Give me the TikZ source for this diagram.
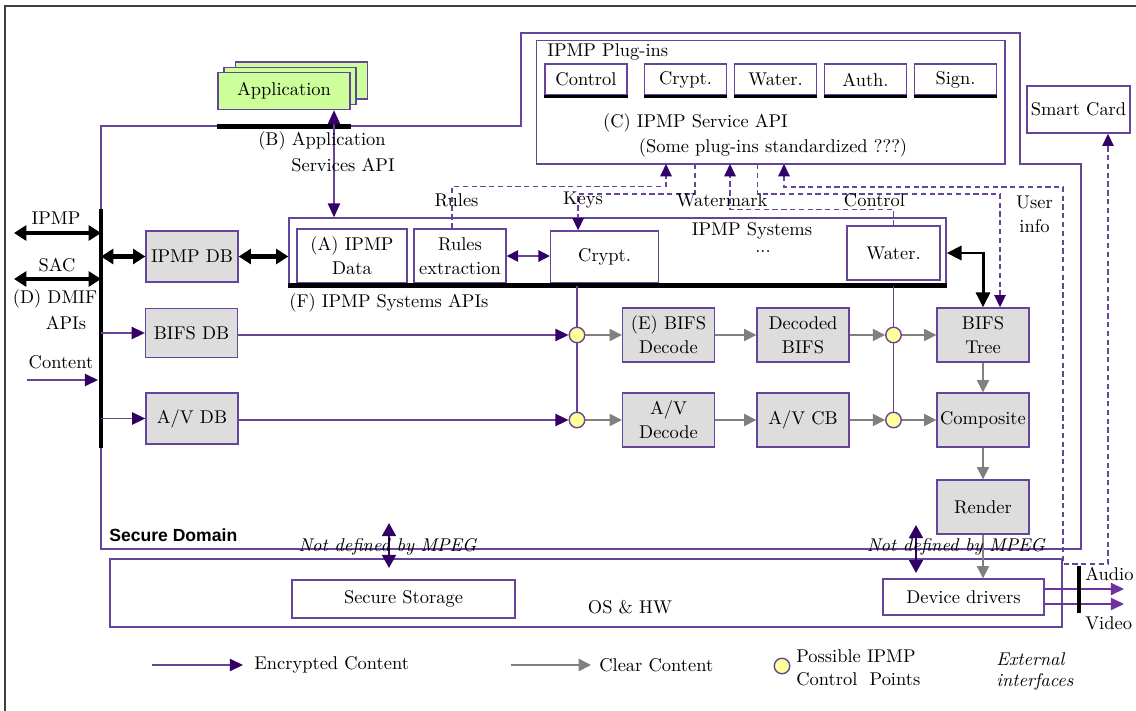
\documentclass[tikz,border=0pt]{standalone}
\usepackage{fontspec}
\usepackage{tikz}
\usetikzlibrary{arrows.meta}
\newfontfamily\domainfont{Liberation Sans}

\definecolor{lnpurple}{RGB}{102,68,153}
\definecolor{hdpurple}{RGB}{51,0,102}
\definecolor{avpurple}{RGB}{112,48,160}
\definecolor{boxgray}{RGB}{221,221,221}
\definecolor{arrgray}{RGB}{128,128,128}
\definecolor{appgreen}{RGB}{204,255,153}
\definecolor{cpyellow}{RGB}{255,255,153}
\definecolor{framegray}{RGB}{64,64,64}

\begin{document}
\begin{tikzpicture}[x=0.02cm,y=-0.02cm,font=\fontsize{10.5}{13.6}\selectfont,
		lbl/.style={inner sep=0pt},
		whitebox/.style={draw=lnpurple,line width=0.8pt,fill=white,align=center,inner sep=1pt},
		graybox/.style={whitebox,fill=boxgray,minimum width=1.84cm,minimum height=1.08cm},
		appbox/.style={whitebox,fill=appgreen,minimum width=2.64cm,minimum height=0.74cm},
		plugbox/.style={whitebox,minimum width=1.64cm,minimum height=0.62cm},
		cpoint/.style={circle,draw=lnpurple,line width=0.8pt,fill=cpyellow,minimum size=0.31cm,inner sep=0pt},
		sdline/.style={draw=lnpurple,line width=0.8pt},
		apibar/.style={line width=2.6pt},
		plugline/.style={line width=1.4pt},
		encarrow/.style={draw=lnpurple,line width=0.8pt,-{Triangle[length=7.5pt,width=7pt,color=hdpurple]}},
		clrarrow/.style={draw=arrgray,line width=0.9pt,-{Triangle[length=7pt,width=7pt]}},
		avarrow/.style={draw=avpurple,line width=0.8pt,-{Triangle[length=7.5pt,width=7pt]}},
		purpdouble/.style={draw=lnpurple,line width=0.8pt,{Triangle[length=6.5pt,width=6.5pt,color=hdpurple]}-{Triangle[length=6.5pt,width=6.5pt,color=hdpurple]}},
		apiarrow/.style={draw=lnpurple,line width=1pt,{Triangle[length=8pt,width=7pt,color=hdpurple]}-{Triangle[length=8pt,width=7pt,color=hdpurple]}},
		ndarrow/.style={draw=hdpurple,line width=1.2pt,{Triangle[length=7.5pt,width=8pt]}-{Triangle[length=7.5pt,width=8pt]}},
		blkdouble/.style={line width=2.3pt,{Triangle[length=7pt,width=8.5pt]}-{Triangle[length=7pt,width=8.5pt]}},
		blkthin/.style={line width=1.7pt,{Triangle[length=8.5pt,width=8pt]}-{Triangle[length=8.5pt,width=8pt]}},
		dasharrow/.style={draw=lnpurple,line width=0.8pt,dash pattern=on 3pt off 2pt,-{Triangle[length=7pt,width=6.5pt,color=hdpurple]}},
		dashdouble/.style={dasharrow,{Triangle[length=7pt,width=6.5pt,color=hdpurple]}-{Triangle[length=7pt,width=6.5pt,color=hdpurple]}}]
	\useasboundingbox (0,0) rectangle (1136,710);
	\draw[framegray,line width=0.6pt] (5,720) -- (5,6) -- (1145,6);
	
	\draw[sdline] (101,549) -- (101,126) -- (521,126) -- (521,33) -- (1020,33) -- (1020,164) -- (1081,164) -- (1081,549) -- cycle;
	\node[lbl,anchor=west,font=\fontsize{10}{12}\domainfont\bfseries] (sdlabel) at (109,535) {Secure Domain};
	
	\node[appbox] (appback) at (301.5,80.5) {};
	\node[appbox] (appmid) at (290,86) {};
	\node[appbox] (app) at (284,91) {Application};
	\draw[apibar] ([yshift=-0.33cm]app.south west) -- ([yshift=-0.33cm]app.south east);
	
	\node[whitebox,minimum width=9.37cm,minimum height=2.47cm] (plugins) at (770.75,102.35) {};
	\node[lbl,anchor=west] (plugtitle) at (547,52) {IPMP Plug-ins};
	\node[plugbox] (pctrl) at (586,79.5) {Control};
	\node[plugbox] (pcrypt) at (685.5,79.5) {Crypt.};
	\node[plugbox] (pwater) at (775.5,79.5) {Water.};
	\node[plugbox] (pauth) at (865.5,79.5) {Auth.};
	\node[plugbox] (psign) at (955.5,79.5) {Sign.};
	\draw[plugline] ([yshift=-0.02cm]pctrl.south west) -- ([yshift=-0.02cm]pctrl.south east);
	\draw[plugline] ([yshift=-0.02cm]pcrypt.south west) -- ([yshift=-0.02cm]pcrypt.south east);
	\draw[plugline] ([yshift=-0.02cm]pwater.south west) -- ([yshift=-0.02cm]pwater.south east);
	\draw[plugline] ([yshift=-0.02cm]pauth.south west) -- ([yshift=-0.02cm]pauth.south east);
	\draw[plugline] ([yshift=-0.02cm]psign.south west) -- ([yshift=-0.02cm]psign.south east);
	\node[lbl] (capi) at (695.5,122.7) {(C) IPMP Service API};
	\node[lbl] (capinote) at (773,147.7) {(Some plug-ins standardized ???)};
	
	\node[whitebox,minimum width=2.06cm,minimum height=0.94cm] (smartcard) at (1078.5,109.5) {Smart Card};
	
	\coordinate (dmiftop) at (101,209);
	\coordinate (dmifbot) at (101,448);
	\draw[line width=2.3pt] (dmiftop) -- (dmifbot);
	\coordinate (ipmpin) at (14,233);
	\coordinate (sacin) at (14,279);
	\coordinate (contentin) at (27,380);
	\draw[blkdouble] (ipmpin) -- (ipmpin -| dmiftop);
	\draw[blkdouble] (sacin) -- (sacin -| dmiftop);
	\draw[encarrow] (contentin) -- ([xshift=-0.06cm]contentin -| dmiftop);
	\node[lbl] (ipmplabel) at (56,218) {IPMP};
	\node[lbl] (saclabel) at (57,265) {SAC};
	\node[lbl] (dmif1) at (55,299) {(D) DMIF};
	\node[lbl] (dmif2) at (66,323) {APIs};
	\node[lbl] (contentlabel) at (61,362) {Content};
	
	\node[graybox,minimum height=1.02cm] (ipmpdb) at (192,256.5) {IPMP DB};
	\node[graybox,minimum height=0.98cm] (bifsdb) at (191.5,333) {BIFS DB};
	\node[graybox,minimum height=1.02cm] (avdb) at (192,418.5) {A/V DB};
	
	\node[whitebox,minimum width=13.14cm,minimum height=1.34cm] (ipmpsys) at (617.5,251.5) {};
	\node[lbl] (systitle) at (752,231) {IPMP Systems};
	\node[lbl] (sysdots) at (763,252) {...};
	\node[whitebox,minimum width=2.2cm,minimum height=1.08cm] (ipmpdata) at (352,256) {(A) IPMP\\Data};
	\node[whitebox,minimum width=1.84cm,minimum height=1.08cm] (rulesx) at (460,256) {Rules\\extraction};
	\node[whitebox,minimum width=2.16cm,minimum height=1.04cm] (cryptsys) at (604.6,257) {Crypt.};
	\node[whitebox,minimum width=1.86cm,minimum height=1.08cm] (watersys) at (893.5,253) {Water.};
	\draw[apibar] (ipmpsys.south west) -- (ipmpsys.south east);
	\node[lbl,anchor=west] (fapi) at (289,303) {(F) IPMP Systems APIs};
	
	\draw[blkdouble] (dmiftop |- ipmpdb) -- (ipmpdb);
	\draw[blkdouble] (ipmpdb) -- (ipmpdb -| ipmpsys.west);
	\draw[purpdouble] (rulesx.east) -- (rulesx.east -| cryptsys.west);
	\draw[encarrow] (dmiftop |- bifsdb) -- (bifsdb);
	\draw[encarrow] (dmiftop |- avdb) -- (avdb);
	
	\draw[apiarrow] ([xshift=1cm]app.south) -- ([xshift=1cm]app.south |- ipmpsys.north);
	\node[lbl] (bapi1) at (322,141) {(B) Application};
	\node[lbl] (bapi2) at (343,165) {Services API};
	
	\node[cpoint] (cp1) at (577,335) {};
	\node[cpoint] (cp2) at (577,420) {};
	\node[cpoint] (cp3) at (893.5,335) {};
	\node[cpoint] (cp4) at (893.5,420) {};
	\draw[sdline] (cp1 |- ipmpsys.south) -- (cp1);
	\draw[sdline] (cp1) -- (cp2);
	\draw[sdline] (cp3 |- ipmpsys.south) -- (cp3);
	\draw[sdline] (cp3) -- (cp4);
	
	\node[graybox] (bifsdec) at (668.5,335) {(E) BIFS\\Decode};
	\node[graybox] (bifsdecd) at (803,335) {Decoded\\BIFS};
	\node[graybox] (bifstree) at (983,335) {BIFS\\Tree};
	\node[graybox] (avdec) at (668.5,420) {A/V\\Decode};
	\node[graybox] (avcb) at (803,420) {A/V CB};
	\node[graybox] (composite) at (983,420) {Composite};
	\node[graybox] (render) at (983,507) {Render};
	
	\draw[encarrow] (bifsdb.east |- cp1) -- (cp1);
	\draw[encarrow] (avdb.east |- cp2) -- (cp2);
	\draw[clrarrow] (cp1) -- (bifsdec);
	\draw[clrarrow] (bifsdec) -- (bifsdecd);
	\draw[clrarrow] (bifsdecd) -- (cp3);
	\draw[clrarrow] (cp3) -- (bifstree);
	\draw[clrarrow] (cp2) -- (avdec);
	\draw[clrarrow] (avdec) -- (avcb);
	\draw[clrarrow] (avcb) -- (cp4);
	\draw[clrarrow] (cp4) -- (composite);
	\draw[clrarrow] (bifstree) -- (composite);
	\draw[clrarrow] (composite) -- (render);
	
	\draw[blkthin] (ipmpsys.east |- watersys) -| (bifstree.north);
	
	\coordinate (torules) at (666,164);
	\coordinate (tokeys) at (695,164);
	\coordinate (towmark) at (730,164);
	\coordinate (tocontrol) at (757.5,164);
	\coordinate (touser) at (784,164);
	\coordinate (usercorner) at (1063,564);
	\draw[dasharrow] ([xshift=-0.16cm]rulesx.north) -- ++(0,-42) -| (torules);
	\draw[dasharrow] (tokeys) -- ++(0,30) -| ([xshift=-0.53cm]cryptsys.north);
	\draw[dasharrow] (watersys.north) -- ++(0,-16) -| (towmark);
	\draw[dasharrow] (tocontrol) -- ++(0,30) -| ([xshift=0.34cm]bifstree.north);
	\draw[dashdouble] (touser) -- ++(0,23) -| (usercorner) -| ([xshift=0.59cm]smartcard.south);
	\node[lbl] (ruleslabel) at (456.5,200) {Rules};
	\node[lbl] (keyslabel) at (583,200) {Keys};
	\node[lbl] (wmarklabel) at (722,200) {Watermark};
	\node[lbl] (ctrllabel) at (874.5,200) {Control};
	\node[lbl,align=center] (userlabel) at (1034.5,214) {User\\info};
	
	\node[whitebox,minimum width=19.04cm,minimum height=1.36cm] (oshw) at (586,593) {};
	\node[lbl] (oslabel) at (630,607) {OS \& HW};
	\node[whitebox,minimum width=4.46cm,minimum height=0.76cm] (secstore) at (403.5,599) {Secure Storage};
	\node[whitebox,minimum width=3.22cm,minimum height=0.72cm] (devdrv) at (963.5,597) {Device drivers};
	\draw[clrarrow] (render) -- (render |- devdrv.north);
	
	\coordinate (nd1top) at (389,523);
	\coordinate (nd1bot) at (389,568);
	\coordinate (nd2top) at (916,525);
	\coordinate (nd2bot) at (916,573);
	\draw[ndarrow] (nd1top) -- (nd1bot);
	\draw[ndarrow] (nd2top) -- (nd2bot);
	\node[lbl] (nd1label) at (387.5,547) {\itshape Not defined by MPEG};
	\node[lbl] (nd2label) at (956,547) {\itshape Not defined by MPEG};
	
	\coordinate (audioout) at (1124,589);
	\coordinate (videoout) at (1124,604);
	\coordinate (exttop) at (1079,566);
	\coordinate (extbot) at (1079,613);
	\draw[avarrow] (devdrv.east |- audioout) -- (audioout);
	\draw[avarrow] (devdrv.east |- videoout) -- (videoout);
	\draw[line width=2.2pt] (exttop) -- (extbot);
	\node[lbl,anchor=west] (audiolabel) at (1085,574) {Audio};
	\node[lbl,anchor=west] (videolabel) at (1085,623) {Video};
	
	\coordinate (encl) at (152,665);
	\coordinate (encr) at (243,665);
	\coordinate (clrl) at (511,665);
	\coordinate (clrr) at (591,665);
	\draw[encarrow] (encl) -- (encr);
	\draw[clrarrow] (clrl) -- (clrr);
	\node[lbl,anchor=west] (enclabel) at (254,665) {Encrypted Content};
	\node[lbl,anchor=west] (clrlabel) at (599,665) {Clear Content};
	\node[cpoint] (cpleg) at (782,666) {};
	\node[lbl,anchor=west] (cplabel1) at (796,656) {Possible IPMP};
	\node[lbl,anchor=west] (cplabel2) at (796,679) {Control\ \ Points};
	\node[lbl,anchor=west] (extlabel1) at (996,659) {\itshape External};
	\node[lbl,anchor=west] (extlabel2) at (996,682) {\itshape interfaces};
\end{tikzpicture}
\end{document}
